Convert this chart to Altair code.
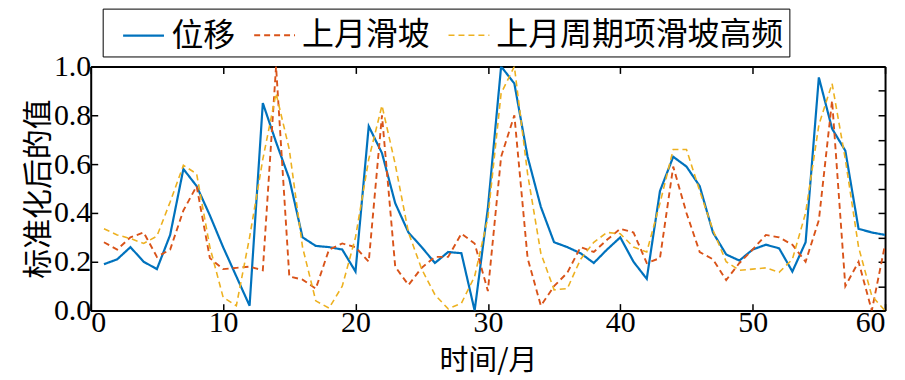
import altair as alt
import pandas as pd

months = list(range(1, 61))

disp = [0.19, 0.21, 0.26, 0.20, 0.17, 0.31, 0.58, 0.51, 0.39, 0.26,
        0.14, 0.02, 0.85, 0.69, 0.54, 0.30, 0.265, 0.26, 0.25, 0.16,
        0.755, 0.645, 0.44, 0.32, 0.26, 0.195, 0.24, 0.235, 0.0, 0.42,
        1.0, 0.93, 0.63, 0.425, 0.28, 0.26, 0.235, 0.195, 0.25, 0.30,
        0.20, 0.13, 0.49, 0.63, 0.59, 0.51, 0.32, 0.23, 0.205, 0.25,
        0.27, 0.255, 0.16, 0.28, 0.955, 0.745, 0.655, 0.335, 0.32, 0.31]

slide = [0.28, 0.25, 0.30, 0.32, 0.22, 0.25, 0.41, 0.51, 0.215, 0.17,
         0.175, 0.18, 0.165, 1.0, 0.14, 0.127, 0.09, 0.25, 0.275, 0.26,
         0.20, 0.80, 0.18, 0.105, 0.175, 0.22, 0.22, 0.315, 0.275, 0.08,
         0.63, 0.80, 0.215, 0.02, 0.10, 0.155, 0.26, 0.24, 0.29, 0.335,
         0.32, 0.195, 0.215, 0.59, 0.40, 0.24, 0.21, 0.125, 0.195, 0.25,
         0.31, 0.30, 0.27, 0.20, 0.37, 0.86, 0.10, 0.20, 0.0, 0.27]

high = [0.335, 0.31, 0.295, 0.275, 0.305, 0.445, 0.595, 0.56, 0.26, 0.055,
        0.02, 0.30, 0.62, 0.89, 0.66, 0.26, 0.04, 0.01, 0.10, 0.30,
        0.62, 0.84, 0.60, 0.32, 0.17, 0.065, 0.007, 0.03, 0.14, 0.38,
        0.89, 1.0, 0.56, 0.235, 0.085, 0.09, 0.21, 0.28, 0.32, 0.315,
        0.26, 0.24, 0.44, 0.66, 0.66, 0.49, 0.33, 0.20, 0.165, 0.17,
        0.175, 0.157, 0.21, 0.40, 0.76, 0.93, 0.62, 0.26, 0.06, 0.0]

series_names = ["位移", "上月滑坡", "上月周期项滑坡高频"]
colors = ["#0072BD", "#D95319", "#EDB120"]
dashes = [[1, 0], [6, 4], [6, 4]]
widths = [2.2, 1.6, 1.6]

x_ticks = [0, 10, 20, 30, 40, 50, 60]
y_ticks = [0.0, 0.2, 0.4, 0.6, 0.8, 1.0]
y_minor = [0.0, 0.1, 0.2, 0.3, 0.4, 0.5, 0.6, 0.7, 0.8, 0.9, 1.0]

rows = []
for name, vals in zip(series_names, [disp, slide, high]):
    for m, v in zip(months, vals):
        rows.append({"month": m, "value": v, "series": name})
df = pd.DataFrame(rows)

num_font = "Liberation Serif"
cjk_font = "Noto Sans CJK SC"

xscale = alt.Scale(domain=[0, 60], nice=False)
yscale = alt.Scale(domain=[0, 1], nice=False, zero=False)

axis_common = dict(
    domainColor="black", domainWidth=2,
    tickColor="black", tickWidth=1.5, tickSize={"expr": "-7"},
    grid=False, labelColor="black", labelFont=num_font,
    titleFont=cjk_font, titleColor="black", titleFontWeight="normal",
)

legend_cfg = dict(
    orient="none", legendX=12, legendY=-58, direction="horizontal",
    title=None, symbolType="stroke", symbolSize=1681, symbolStrokeWidth=2,
    labelFont=cjk_font, labelFontSize=32, labelColor="black", labelLimit=600,
    labelOffset=6, columnPadding=3, padding=5, symbolOffset=14,
    strokeColor="black", fillColor="white",
)

base = alt.Chart(df)

lines = base.mark_line(clip=True).encode(
    x=alt.X("month:Q", scale=xscale,
            axis=alt.Axis(orient="bottom", values=x_ticks, title="时间/月",
                          labelFontSize=30,
                          titleFontSize=29, labelPadding=4, titlePadding=9,
                          **axis_common)),
    y=alt.Y("value:Q", scale=yscale,
            axis=alt.Axis(orient="left", values=y_ticks, format=".1f",
                          labelFontSize=30,
                          title="标准化后的值", titleFontSize=30,
                          labelPadding=7, titlePadding=0, **axis_common)),
    color=alt.Color("series:N", sort=series_names,
                    scale=alt.Scale(domain=series_names, range=colors),
                    legend=alt.Legend(**legend_cfg)),
    strokeDash=alt.StrokeDash("series:N", sort=series_names,
                              scale=alt.Scale(domain=series_names, range=dashes),
                              legend=alt.Legend(**legend_cfg)),
    strokeWidth=alt.StrokeWidth("series:N",
                                scale=alt.Scale(domain=series_names, range=widths),
                                legend=None),
)

frame = base.mark_line(opacity=0).encode(
    x=alt.X("month:Q", scale=xscale,
            axis=alt.Axis(orient="top", values=x_ticks, labels=False, title=None,
                          **axis_common)),
    y=alt.Y("value:Q", scale=yscale,
            axis=alt.Axis(orient="right", values=y_minor, labels=False, title=None,
                          **axis_common)),
)

chart = alt.layer(lines, frame).resolve_axis(
    x="independent", y="independent"
).properties(
    width=797, height=245,
    padding={"left": 83, "top": 58, "right": 12, "bottom": 69},
    autosize=alt.AutoSizeParams(type="none"),
).configure_view(stroke=None).configure(background="white")

chart.save("out.html", embed_options={"renderer": "svg", "actions": False})
